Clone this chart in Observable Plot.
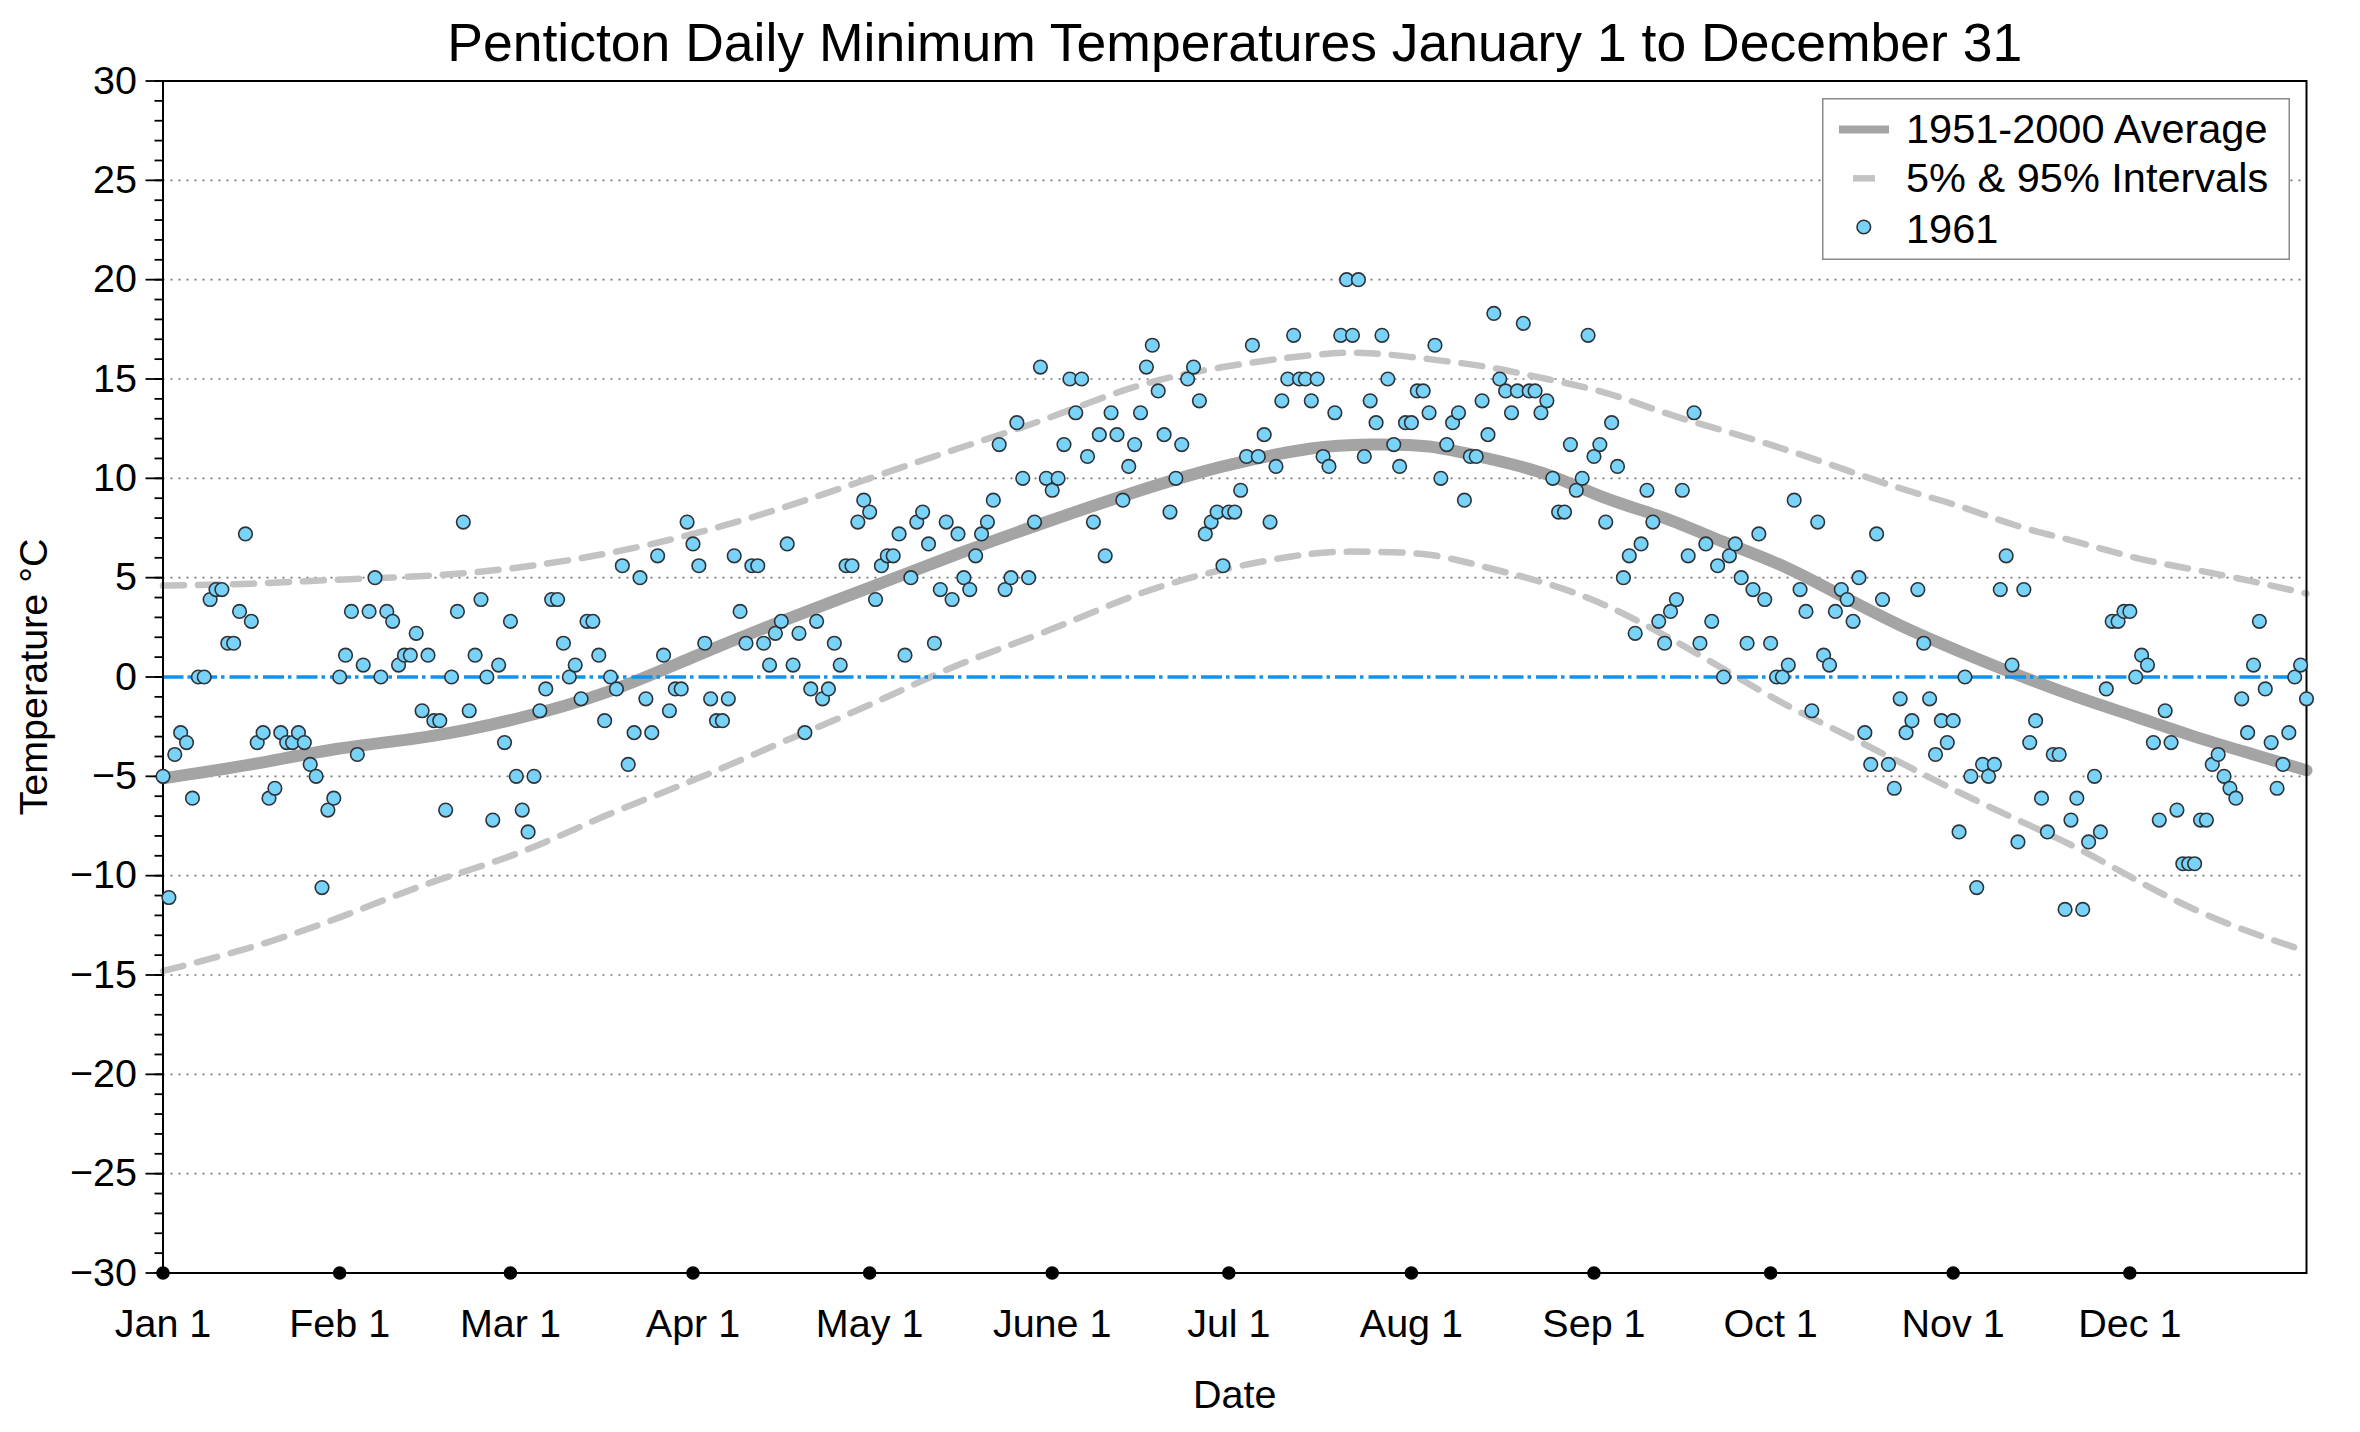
<!DOCTYPE html>
<html><head><meta charset="utf-8">
<script src="https://cdn.jsdelivr.net/npm/d3@7"></script>
<script src="https://cdn.jsdelivr.net/npm/@observablehq/plot@0.6"></script>
<style>
html,body{margin:0;padding:0;background:#fff;overflow:hidden;}
#wrap{position:relative;width:2360px;height:1432px;}
#legend{position:absolute;left:1822px;top:98px;}
</style></head><body><div id="wrap"></div>
<script>
// Daily minimum temperatures, Penticton 1961 (°C), one array per month
const jan = [-5.0,-11.1,-3.9,-2.8,-3.3,-6.1,0.0,0.0,3.9,4.4,4.4,1.7,1.7,3.3,7.2,2.8,-3.3,-2.8,-6.1,-5.6,-2.8,-3.3,-3.3,-2.8,-3.3,-4.4,-5.0,-10.6,-6.7,-6.1,0.0];
const feb = [1.1,3.3,-3.9,0.6,3.3,5.0,0.0,3.3,2.8,0.6,1.1,1.1,2.2,-1.7,1.1,-2.2,-2.2,-6.7,0.0,3.3,7.8,-1.7,1.1,3.9,0.0,-7.2,0.6,-3.3];
const mar = [2.8,-5.0,-6.7,-7.8,-5.0,-1.7,-0.6,3.9,3.9,1.7,0.0,0.6,-1.1,2.8,2.8,1.1,-2.2,0.0,-0.6,5.6,-4.4,-2.8,5.0,-1.1,-2.8,6.1,1.1,-1.7,-0.6,-0.6,7.8];
const apr = [6.7,5.6,1.7,-1.1,-2.2,-2.2,-1.1,6.1,3.3,1.7,5.6,5.6,1.7,0.6,2.2,2.8,6.7,0.6,2.2,-2.8,-0.6,2.8,-1.1,-0.6,1.7,0.6,5.6,5.6,7.8,8.9];
const may = [8.3,3.9,5.6,6.1,6.1,7.2,1.1,5.0,7.8,8.3,6.7,1.7,4.4,7.8,3.9,7.2,5.0,4.4,6.1,7.2,7.8,8.9,11.7,4.4,5.0,12.8,10.0,5.0,7.8,15.6,10.0];
const jun = [9.4,10.0,11.7,15.0,13.3,15.0,11.1,7.8,12.2,6.1,13.3,12.2,8.9,10.6,11.7,13.3,15.6,16.7,14.4,12.2,8.3,10.0,11.7,15.0,15.6,13.9,7.2,7.8,8.3,5.6];
const jul = [8.3,8.3,9.4,11.1,16.7,11.1,12.2,7.8,10.6,13.9,15.0,17.2,15.0,15.0,13.9,15.0,11.1,10.6,13.3,17.2,20.0,17.2,20.0,11.1,13.9,12.8,17.2,15.0,11.7,10.6,12.8];
const aug = [12.8,14.4,14.4,13.3,16.7,10.0,11.7,12.8,13.3,8.9,11.1,11.1,13.9,12.2,18.3,15.0,14.4,13.3,14.4,17.8,14.4,14.4,13.3,13.9,10.0,8.3,8.3,11.7,9.4,10.0,17.2];
const sep = [11.1,11.7,7.8,12.8,10.6,5.0,6.1,2.2,6.7,9.4,7.8,2.8,1.7,3.3,3.9,9.4,6.1,13.3,1.7,6.7,2.8,5.6,0.0,6.1,6.7,5.0,1.7,4.4,7.2,3.9];
const oct = [1.7,0.0,0.0,0.6,8.9,4.4,3.3,-1.7,7.8,1.1,0.6,3.3,4.4,3.9,2.8,5.0,-2.8,-4.4,7.2,3.9,-4.4,-5.6,-1.1,-2.8,-2.2,4.4,1.7,-1.1,-3.9,-2.2,-3.3];
const nov = [-2.2,-7.8,0.0,-5.0,-10.6,-4.4,-5.0,-4.4,4.4,6.1,0.6,-8.3,4.4,-3.3,-2.2,-6.1,-7.8,-3.9,-3.9,-11.7,-7.2,-6.1,-11.7,-8.3,-5.0,-7.8,-0.6,2.8,2.8,3.3];
const dec = [3.3,0.0,1.1,0.6,-3.3,-7.2,-1.7,-3.3,-6.7,-9.4,-9.4,-9.4,-7.2,-7.2,-4.4,-3.9,-5.0,-5.6,-6.1,-1.1,-2.8,0.6,2.8,-0.6,-3.3,-5.6,-4.4,-2.8,0.0,0.6,-1.1];

// 1951-2000 climatology curves, read at sample days (day 0 = Jan 1)
const curveDays = [0,15,30,45,60,75,90,105,120,135,150,165,180,195,205,215,225,235,245,255,265,275,285,295,305,315,325,335,345,355,364];
const avgCurve  = [-5.1,-4.4,-3.6,-3.0,-2.1,-0.8,1.0,2.8,4.5,6.2,7.8,9.3,10.6,11.5,11.7,11.6,11.0,10.2,9.0,8.0,6.8,5.6,4.1,2.6,1.3,0.1,-1.0,-2.0,-3.0,-3.9,-4.7];
const p95Curve  = [4.6,4.7,4.9,5.1,5.5,6.2,7.2,8.5,10.0,11.5,13.0,14.6,15.6,16.2,16.3,16.0,15.6,15.0,14.3,13.3,12.4,11.5,10.5,9.5,8.6,7.6,6.8,6.0,5.4,4.8,4.2];
const p5Curve   = [-14.8,-13.6,-12.1,-10.4,-8.9,-7.0,-5.2,-3.3,-1.4,0.6,2.3,4.1,5.4,6.2,6.3,6.15,5.5,4.7,3.6,2.1,0.4,-1.3,-2.8,-4.3,-5.8,-7.2,-8.6,-10.2,-11.7,-12.9,-13.8];

// Axis ticks
const monthTicks  = [0,30,59,90,120,151,181,212,243,273,304,334];
const monthLabels = ["Jan 1","Feb 1","Mar 1","Apr 1","May 1","June 1","Jul 1","Aug 1","Sep 1","Oct 1","Nov 1","Dec 1"];
const yMajor = d3.range(-30, 31, 5);
const yMinor = d3.range(-30, 31, 1);
const yGrid  = [-25,-20,-15,-10,-5,5,10,15,20,25];

const titleText = "Penticton Daily Minimum Temperatures January 1 to December 31";

const tmin1961 = [...jan,...feb,...mar,...apr,...may,...jun,...jul,...aug,...sep,...oct,...nov,...dec];
const daily = tmin1961.map((t, i) => ({day: i, t}));
const curves = curveDays.map((d, i) => ({day: d, avg: avgCurve[i], p95: p95Curve[i], p5: p5Curve[i]}));
const labelOf = new Map(monthTicks.map((d, i) => [d, monthLabels[i]]));

const font = "Liberation Sans, Arial, Helvetica, sans-serif";

const chart = Plot.plot({
  width: 2360,
  height: 1432,
  marginLeft: 162.5,
  marginRight: 54,
  marginTop: 80.5,
  marginBottom: 159.5,
  style: {fontFamily: font, fontSize: "39.5px", background: "white", color: "black", overflow: "visible"},
  x: {domain: [0, 364]},
  y: {domain: [-30, 30]},
  marks: [
    Plot.gridY(yGrid, {stroke: "#777", strokeOpacity: 1, strokeWidth: 1.6, strokeDasharray: "2,6"}),
    Plot.line(curves, {x: "day", y: "avg", curve: "natural", stroke: "#a4a4a4", strokeWidth: 12}),
    Plot.line(curves, {x: "day", y: "p95", curve: "natural", stroke: "#c3c3c3", strokeWidth: 6.5, strokeDasharray: "21,14"}),
    Plot.line(curves, {x: "day", y: "p5", curve: "natural", stroke: "#c3c3c3", strokeWidth: 6.5, strokeDasharray: "21,14"}),
    Plot.ruleY([0], {stroke: "#1591ea", strokeWidth: 3.5, strokeDasharray: "21,4,3.5,5"}),
    Plot.axisY({ticks: yMinor, tickSize: 8, tickFormat: () => "", strokeWidth: 1.8, label: null}),
    Plot.axisY({ticks: yMajor, tickSize: 17, tickPadding: 9, strokeWidth: 1.8, label: null, fontSize: 39.5}),
    Plot.axisX({ticks: monthTicks, tickSize: 0, tickPadding: 36, tickFormat: d => labelOf.get(d), label: null, fontSize: 39.5}),
    Plot.frame({stroke: "black", strokeWidth: 2}),
    Plot.dot(daily, {x: "day", y: "t", r: 6.8, fill: "#79d2f8", stroke: "#2e3338", strokeWidth: 1.6}),
    Plot.dot(monthTicks, {x: d => d, frameAnchor: "bottom", r: 6, fill: "black", stroke: "black"}),
    Plot.text([titleText], {frameAnchor: "top", dy: -58, lineAnchor: "top", fontSize: 53.5, textAnchor: "middle"}),
    Plot.text(["Date"], {frameAnchor: "bottom", dy: 107, lineAnchor: "top", fontSize: 39.5}),
    Plot.text(["Temperature °C"], {frameAnchor: "left", dx: -129, rotate: -90, lineAnchor: "middle", textAnchor: "middle", fontSize: 39.5})
  ]
});

const wrap = document.getElementById("wrap");
wrap.appendChild(chart);

// Legend box (top-right, inside the frame)
const legend = document.createElement("div");
legend.id = "legend";
legend.innerHTML = `
<svg width="468" height="162" xmlns="http://www.w3.org/2000/svg" style="font-family:${font};font-size:41.5px;display:block">
  <rect x="0.75" y="0.75" width="466.5" height="160.5" fill="white" stroke="#8a8a8a" stroke-width="1.5"/>
  <line x1="17" x2="67" y1="31.6" y2="31.6" stroke="#a4a4a4" stroke-width="8"/>
  <text x="84" y="45.3">1951-2000 Average</text>
  <line x1="31" x2="53" y1="80.3" y2="80.3" stroke="#c3c3c3" stroke-width="6.5"/>
  <text x="84" y="94">5% &amp; 95% Intervals</text>
  <circle cx="41.8" cy="129" r="6.8" fill="#79d2f8" stroke="#2e3338" stroke-width="1.6"/>
  <text x="84" y="145.3">1961</text>
</svg>`;
wrap.appendChild(legend);
</script>
</body></html>
